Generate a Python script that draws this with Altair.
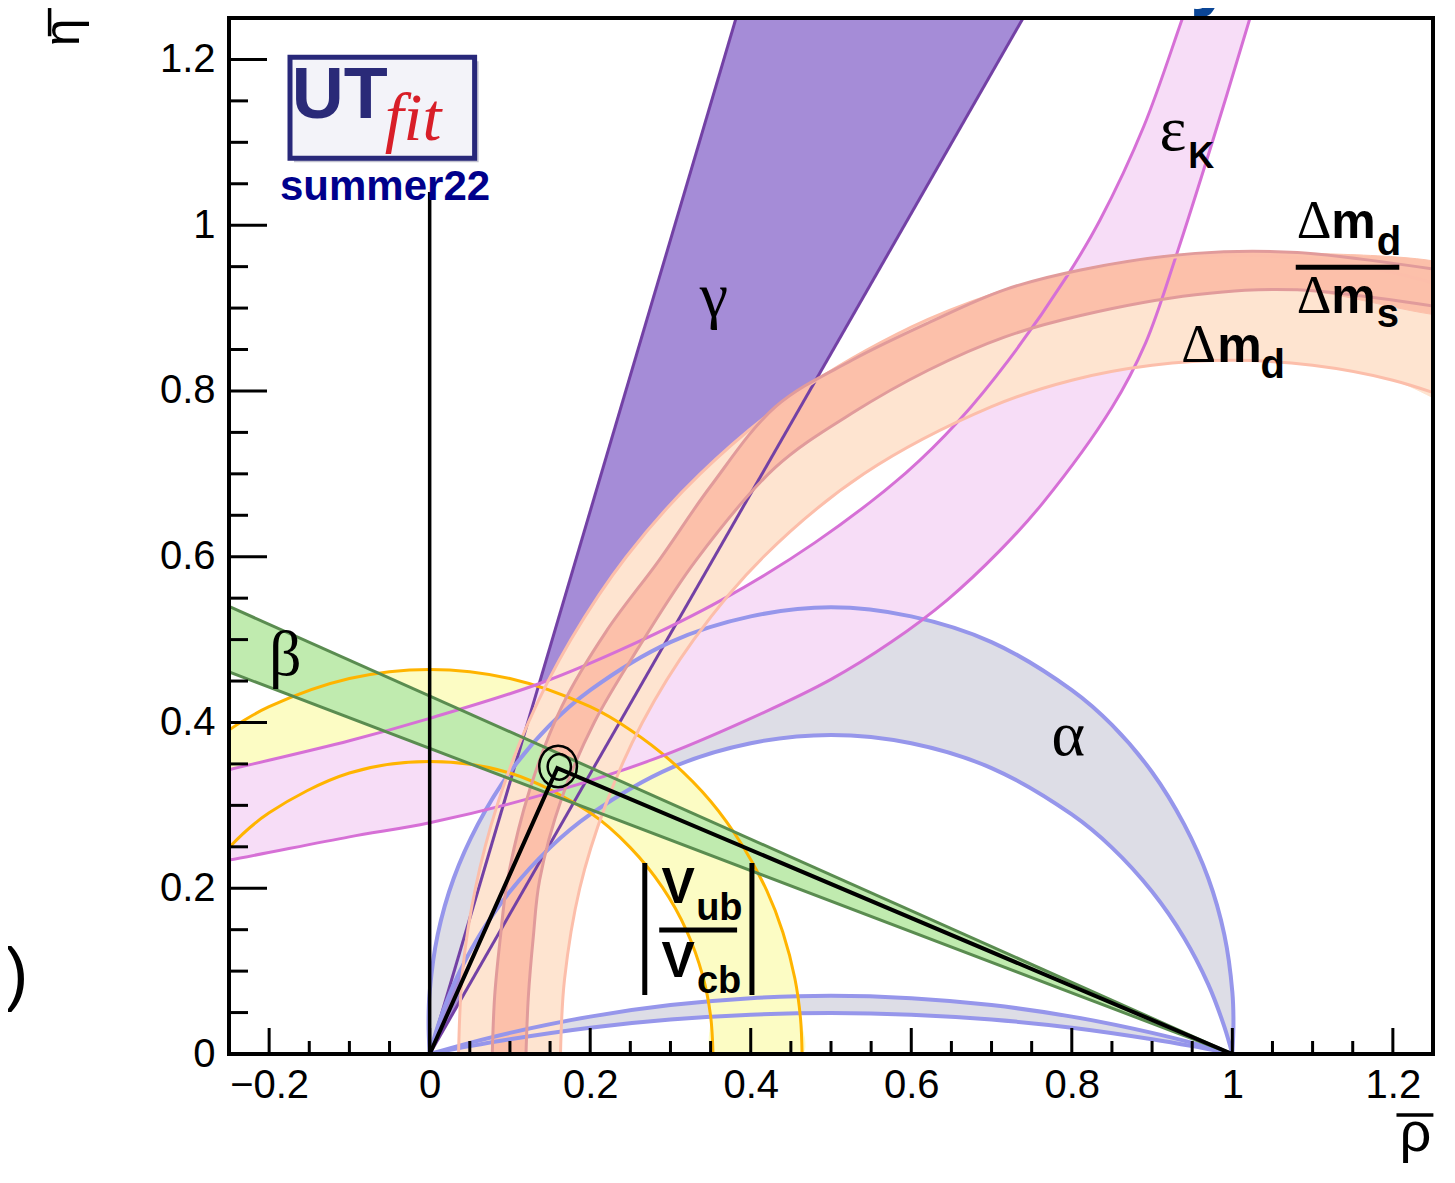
import altair as alt
import pandas as pd

W, H = 1204, 1036
X_DOMAIN = [-0.25, 1.25]
Y_DOMAIN = [0.0, 1.25]

X_LABELS = [-0.2, 0.0, 0.2, 0.4, 0.6, 0.8, 1.0, 1.2]
Y_LABELS = [0.0, 0.2, 0.4, 0.6, 0.8, 1.0, 1.2]
X_MINOR = [-0.15, -0.1, -0.05, 0.05, 0.1, 0.15, 0.25, 0.3, 0.35, 0.45, 0.5, 0.55,
           0.65, 0.7, 0.75, 0.85, 0.9, 0.95, 1.05, 1.1, 1.15]
Y_MINOR = [0.05, 0.1, 0.15, 0.25, 0.3, 0.35, 0.45, 0.5, 0.55, 0.65, 0.7, 0.75,
           0.85, 0.9, 0.95, 1.05, 1.1, 1.15]

# ---- gamma wedge ----
GAMMA_L_X = [0.0, 0.397]
GAMMA_L_Y = [0.0, 1.30]
GAMMA_R_X = [0.0, 0.769]
GAMMA_R_Y = [0.0, 1.30]

# ---- beta band ----
BETA_U_X = [-0.30, 1.0]
BETA_U_Y = [0.5616, 0.0]
BETA_L_X = [-0.30, 1.0]
BETA_L_Y = [0.4794, 0.0]

# ---- alpha (main solution) ----
ALPHA_O_X = [0.0, -0.0014, 0.0, 0.01, 0.03, 0.06, 0.1, 0.15, 0.2, 0.3, 0.4, 0.5, 0.6, 0.7,
             0.8, 0.85, 0.9, 0.94, 0.97, 0.99, 1.0, 1.0014, 1.0]
ALPHA_O_Y = [0.0, 0.0376, 0.075, 0.144, 0.212, 0.277, 0.340, 0.397, 0.439, 0.497, 0.528, 0.539,
             0.528, 0.497, 0.439, 0.397, 0.340, 0.277, 0.212, 0.144, 0.075, 0.0376, 0.0]
ALPHA_I_X = [0.0, 0.01, 0.03, 0.06, 0.1, 0.15, 0.2, 0.3, 0.4, 0.5, 0.6, 0.7, 0.8, 0.85,
             0.9, 0.94, 0.97, 0.99, 1.0]
ALPHA_I_Y = [0.0, 0.033, 0.084, 0.140, 0.196, 0.249, 0.289, 0.345, 0.375, 0.385, 0.375, 0.345,
             0.289, 0.249, 0.196, 0.140, 0.084, 0.033, 0.0]
# ---- alpha (flat solution) ----
ALPHA2_O_X = [0.0, 0.05, 0.1, 0.2, 0.3, 0.4, 0.5, 0.6, 0.7, 0.8, 0.9, 0.95, 1.0]
ALPHA2_O_Y = [0.0, 0.0135, 0.0255, 0.0451, 0.059, 0.0673, 0.0703, 0.0673, 0.059, 0.0451,
              0.0255, 0.0135, 0.0]
ALPHA2_I_X = [0.0, 0.05, 0.1, 0.2, 0.3, 0.4, 0.5, 0.6, 0.7, 0.8, 0.9, 0.95, 1.0]
ALPHA2_I_Y = [0.0, 0.0095, 0.0179, 0.0318, 0.0416, 0.0475, 0.0495, 0.0475, 0.0416, 0.0318,
              0.0179, 0.0095, 0.0]

# ---- |Vub/Vcb| ----
VUB_O_X = [-0.30, -0.25, -0.2, -0.1, 0.0, 0.1, 0.2, 0.25, 0.3, 0.35, 0.39, 0.42, 0.44, 0.455,
           0.462, 0.464]
VUB_O_Y = [0.354, 0.391, 0.419, 0.453, 0.464, 0.453, 0.419, 0.391, 0.354, 0.305, 0.251, 0.197,
           0.147, 0.091, 0.043, 0.0]
VUB_I_X = [-0.30, -0.25, -0.2, -0.1, 0.0, 0.1, 0.2, 0.25, 0.29, 0.32, 0.34, 0.35, 0.353]
VUB_I_Y = [0.186, 0.249, 0.291, 0.339, 0.353, 0.339, 0.291, 0.249, 0.201, 0.149, 0.095, 0.046, 0.0]

# ---- epsilon_K ----
EPS_U_X = [-0.30, -0.25, -0.1, 0.0, 0.137, 0.25, 0.364, 0.48, 0.593, 0.66, 0.721, 0.793, 0.835,
           0.89, 0.938, 0.96]
EPS_U_Y = [0.331, 0.343, 0.378, 0.405, 0.447, 0.493, 0.548, 0.617, 0.701, 0.765, 0.837, 0.937,
           1.006, 1.12, 1.25, 1.31]
EPS_L_X = [-0.30, -0.25, -0.1, 0.0, 0.149, 0.28, 0.398, 0.5, 0.575, 0.645, 0.71, 0.764, 0.85,
           0.892, 0.931, 0.975, 1.022, 1.04]
EPS_L_Y = [0.226, 0.234, 0.262, 0.279, 0.315, 0.356, 0.404, 0.452, 0.497, 0.548, 0.607, 0.665,
           0.780, 0.858, 0.966, 1.10, 1.25, 1.31]

# ---- Delta m_d ----
DMD_O_X = [0.036, 0.041, 0.057, 0.084, 0.123, 0.176, 0.245, 0.337, 0.462, 0.6, 0.7, 0.8, 0.9,
           1.0, 1.1, 1.2, 1.3]
DMD_O_Y = [0.0, 0.1, 0.2, 0.3, 0.4, 0.5, 0.6, 0.7, 0.8, 0.877, 0.916, 0.943, 0.959, 0.964,
           0.959, 0.943, 0.916]
DMD_I_X = [0.163, 0.168, 0.187, 0.219, 0.265, 0.329, 0.416, 0.541, 0.7, 0.8, 0.9, 1.0, 1.1,
           1.2, 1.3]
DMD_I_Y = [0.0, 0.09, 0.2, 0.3, 0.4, 0.5, 0.6, 0.7, 0.781, 0.813, 0.831, 0.837, 0.831, 0.813,
           0.781]

# ---- Delta m_d / Delta m_s ----
DMS_U_X = [0.078, 0.081, 0.088, 0.097, 0.125, 0.165, 0.22, 0.286, 0.35, 0.431, 0.526, 0.621,
           0.716, 0.811, 0.954, 1.081, 1.3]
DMS_U_Y = [0.0, 0.07, 0.14, 0.21, 0.32, 0.42, 0.51, 0.596, 0.685, 0.781, 0.837, 0.882, 0.922,
           0.946, 0.966, 0.967, 0.94]
DMS_L_X = [0.120, 0.123, 0.129, 0.137, 0.165, 0.205, 0.26, 0.332, 0.431, 0.526, 0.621, 0.716,
           0.811, 0.954, 1.081, 1.3]
DMS_L_Y = [0.0, 0.07, 0.14, 0.21, 0.31, 0.40, 0.49, 0.596, 0.708, 0.773, 0.825, 0.865, 0.891,
           0.916, 0.922, 0.895]

# ---- fit result ----
TRI_X = [0.0, 0.159, 1.0]
TRI_Y = [0.0, 0.345, 0.0]
CONT_O_X = [0.1835, 0.1804, 0.1718, 0.160, 0.1483, 0.1396, 0.1365, 0.1396, 0.1483, 0.160, 0.1718, 0.1804]
CONT_O_Y = [0.347, 0.3595, 0.3687, 0.372, 0.3687, 0.3595, 0.347, 0.3345, 0.3253, 0.322, 0.3253, 0.3345]
CONT_I_X = [0.176, 0.1741, 0.1688, 0.1615, 0.1543, 0.1489, 0.147, 0.1489, 0.1543, 0.1615, 0.1688, 0.1741]
CONT_I_Y = [0.3465, 0.3543, 0.3599, 0.362, 0.3599, 0.3543, 0.3465, 0.3388, 0.3331, 0.331, 0.3331, 0.3388]
VLINE_X = [0.0, 0.0]
VLINE_Y = [0.0, 1.04]

SX = alt.Scale(domain=X_DOMAIN, nice=False, zero=False)
SY = alt.Scale(domain=Y_DOMAIN, nice=False, zero=False)
AX = alt.Axis(values=X_LABELS, format='~g', ticks=False, tickSize=0, domain=False, grid=False,
              labelFont='Liberation Sans', labelFontSize=40, labelColor='black', labelPadding=11,
              labelFlush=False, labelOverlap=False, title=None)
AY = alt.Axis(values=Y_LABELS, format='~g', ticks=False, tickSize=0, domain=False, grid=False,
              labelFont='Liberation Sans', labelFontSize=40, labelColor='black', labelPadding=14,
              labelFlush=False, labelOverlap=False, title=None)


def xy(xf='x', yf='y'):
    return dict(x=alt.X(f'{xf}:Q', scale=SX, axis=AX), y=alt.Y(f'{yf}:Q', scale=SY, axis=AY))


def poly(ux, uy, lx, ly):
    xs = list(ux) + list(lx)[::-1]
    ys = list(uy) + list(ly)[::-1]
    return pd.DataFrame({'x': xs, 'y': ys, 'i': list(range(len(xs)))})


def fill_layer(df, color, interp='catmull-rom'):
    return alt.Chart(df).mark_line(fill=color, stroke=color, strokeWidth=1, interpolate=interp,
                                   clip=True).encode(**xy(), order='i:Q')


def curves(curve_list, color, width, interp='catmull-rom'):
    rows = []
    for k, (xs, ys) in enumerate(curve_list):
        for i, (a, b) in enumerate(zip(xs, ys)):
            rows.append({'x': a, 'y': b, 'c': k, 'i': i})
    return alt.Chart(pd.DataFrame(rows)).mark_line(color=color, strokeWidth=width,
                                                   interpolate=interp, clip=True).encode(
        **xy(), detail='c:N', order='i:Q')


def texts(xs, ys, ts, **mk):
    df = pd.DataFrame({'x': xs, 'y': ys, 't': ts})
    return alt.Chart(df).mark_text(**mk).encode(**xy(), text='t:N')


C_GAMMA, L_GAMMA = '#a58cd7', '#7341a5'
C_EPS, L_EPS = '#f7ddf7', '#d670d6'
C_ALPHA, L_ALPHA = '#dddde6', '#9696eb'
C_VUB, L_VUB = '#fcfcc4', '#ffb400'
C_DMD, L_DMD = '#fee4d0', '#fcbeaa'
C_DMS, L_DMS = '#fcc0aa', '#e19b9b'
C_BETA, L_BETA = '#c0ebaf', '#5a8c50'

layers = [
    fill_layer(poly(GAMMA_L_X, GAMMA_L_Y, GAMMA_R_X, GAMMA_R_Y), C_GAMMA, 'linear'),
    fill_layer(poly(ALPHA_O_X, ALPHA_O_Y, ALPHA_I_X, ALPHA_I_Y), C_ALPHA),
    fill_layer(poly(ALPHA2_O_X, ALPHA2_O_Y, ALPHA2_I_X, ALPHA2_I_Y), C_ALPHA),
    fill_layer(poly(VUB_O_X, VUB_O_Y, VUB_I_X, VUB_I_Y), C_VUB),
    fill_layer(poly(EPS_U_X, EPS_U_Y, EPS_L_X, EPS_L_Y), C_EPS),
    fill_layer(poly(DMD_O_X, DMD_O_Y, DMD_I_X, DMD_I_Y), C_DMD),
    fill_layer(poly(DMS_U_X, DMS_U_Y, DMS_L_X, DMS_L_Y), C_DMS),
    fill_layer(poly(BETA_U_X, BETA_U_Y, BETA_L_X, BETA_L_Y), C_BETA, 'linear'),
    curves([(GAMMA_L_X, GAMMA_L_Y), (GAMMA_R_X, GAMMA_R_Y)], L_GAMMA, 3, 'linear'),
    curves([(ALPHA_O_X, ALPHA_O_Y), (ALPHA_I_X, ALPHA_I_Y), (ALPHA2_O_X, ALPHA2_O_Y),
            (ALPHA2_I_X, ALPHA2_I_Y)], L_ALPHA, 4),
    curves([(VUB_O_X, VUB_O_Y), (VUB_I_X, VUB_I_Y)], L_VUB, 3),
    curves([(EPS_U_X, EPS_U_Y), (EPS_L_X, EPS_L_Y)], L_EPS, 3),
    curves([(DMD_O_X, DMD_O_Y), (DMD_I_X, DMD_I_Y)], L_DMD, 3),
    curves([(DMS_U_X, DMS_U_Y), (DMS_L_X, DMS_L_Y)], L_DMS, 3),
    curves([(BETA_U_X, BETA_U_Y), (BETA_L_X, BETA_L_Y)], L_BETA, 3, 'linear'),
    curves([(VLINE_X, VLINE_Y)], 'black', 3.5, 'linear'),
    curves([(TRI_X, TRI_Y)], 'black', 4, 'linear'),
    curves([(CONT_O_X, CONT_O_Y), (CONT_I_X, CONT_I_Y)], 'black', 2.5, 'cardinal-closed'),
]

# ---- constraint labels ----
GREEK = dict(font='Liberation Serif', fontSize=64, color='black', align='center',
             baseline='alphabetic')
layers += [
    texts([0.354, 0.7955, -0.180, 0.926], [0.891, 0.3607, 0.457, 1.0905],
          ['γ', 'α', 'β', 'ε'], **GREEK),
    texts([0.945], [1.0688], ['K'], font='Liberation Sans', fontSize=36, fontWeight='bold',
          color='black', align='left', baseline='alphabetic'),
    texts([0.958, 1.102, 1.102], [0.835, 0.984, 0.894], ['Δ', 'Δ', 'Δ'],
          font='Liberation Serif', fontSize=54, color='black', align='center',
          baseline='alphabetic'),
    texts([1.009, 1.151, 1.151], [0.835, 0.984, 0.894], ['m', 'm', 'm'],
          font='Liberation Sans', fontSize=50, fontWeight='bold', color='black',
          align='center', baseline='alphabetic'),
    texts([1.035, 1.180, 1.180], [0.8154, 0.9638, 0.877], ['d', 'd', 's'],
          font='Liberation Sans', fontSize=40, fontWeight='bold', color='black',
          align='left', baseline='alphabetic'),
    texts([0.3095, 0.3095], [0.182, 0.0929], ['V', 'V'], font='Liberation Sans', fontSize=50,
          fontWeight='bold', color='black', align='center', baseline='alphabetic'),
    texts([0.332, 0.333], [0.1616, 0.0736], ['ub', 'cb'], font='Liberation Sans', fontSize=38,
          fontWeight='bold', color='black', align='left', baseline='alphabetic'),
]

# fraction bars, |...| bars and the over-bars of the axis titles
RULE_X = [1.079, 0.286, 0.268, 0.4015, 1.2045, -0.4735]
RULE_X2 = [1.208, 0.383, 0.268, 0.4015, 1.2505, -0.4735]
RULE_Y = [0.9493, 0.1496, 0.0712, 0.0712, -0.0736, 1.262]
RULE_Y2 = [0.9493, 0.1496, 0.2304, 0.2304, -0.0736, 1.228]
RULE_W = [5, 5, 5, 5, 3.5, 3.5]
rules_df = pd.DataFrame({'x': RULE_X, 'x2': RULE_X2, 'y': RULE_Y, 'y2': RULE_Y2, 'w': RULE_W})
layers.append(alt.Chart(rules_df).mark_rule(color='black').encode(
    **xy(), x2='x2:Q', y2='y2:Q',
    strokeWidth=alt.StrokeWidth('w:Q', scale=None, legend=None)))

# ---- logo ----
LOGO = pd.DataFrame({'x': [-0.174], 'x2': [0.056], 'y': [1.2027], 'y2': [1.0808]})
LOGO_SH = pd.DataFrame({'x': [-0.169], 'x2': [0.061], 'y': [1.1979], 'y2': [1.076]})
layers += [
    alt.Chart(LOGO_SH).mark_rect(color='#9a9ab0', opacity=0.6).encode(**xy(), x2='x2:Q', y2='y2:Q'),
    alt.Chart(LOGO).mark_rect(fill='#f3f3f9', stroke='#28287a', strokeWidth=5).encode(
        **xy(), x2='x2:Q', y2='y2:Q'),
    texts([-0.112], [1.129], ['UT'], font='Liberation Sans', fontSize=72, fontWeight='bold',
          color='#2a2a78', align='center', baseline='alphabetic'),
    texts([-0.056], [1.1025], ['fit'], font='Liberation Serif', fontSize=68, fontStyle='italic',
          color='#d81e28', align='left', baseline='alphabetic'),
    texts([-0.1865], [1.030], ['summer22'], font='Liberation Sans', fontSize=42,
          fontWeight='bold', color='#00008c', align='left', baseline='alphabetic'),
    texts([0.975], [1.2714], ['y'], font='Liberation Sans', fontSize=80, fontWeight='bold',
          color='#0b4696', align='center', baseline='alphabetic'),
    texts([-0.5146], [0.094], [')'], font='Liberation Sans', fontSize=70, color='black',
          align='center', baseline='middle'),
    texts([1.228], [-0.1165], ['ρ'], font='Liberation Sans', fontSize=56, color='black',
          align='center', baseline='alphabetic'),
    texts([-0.4363], [1.2328], ['η'], font='Liberation Sans', fontSize=50, color='black',
          align='center', baseline='alphabetic', angle=270),
]

# ---- ticks (inside the frame) ----
tx_major = pd.DataFrame({'x': X_LABELS})
tx_minor = pd.DataFrame({'x': X_MINOR})
ty_major = pd.DataFrame({'y': Y_LABELS})
ty_minor = pd.DataFrame({'y': Y_MINOR})
layers += [
    alt.Chart(tx_major).mark_rule(color='black', strokeWidth=3).encode(
        x=alt.X('x:Q', scale=SX, axis=AX), y=alt.value(H), y2=alt.value(H - 26)),
    alt.Chart(tx_minor).mark_rule(color='black', strokeWidth=3).encode(
        x=alt.X('x:Q', scale=SX, axis=AX), y=alt.value(H), y2=alt.value(H - 13)),
    alt.Chart(ty_major).mark_rule(color='black', strokeWidth=3).encode(
        y=alt.Y('y:Q', scale=SY, axis=AY), x=alt.value(0), x2=alt.value(38)),
    alt.Chart(ty_minor).mark_rule(color='black', strokeWidth=3).encode(
        y=alt.Y('y:Q', scale=SY, axis=AY), x=alt.value(0), x2=alt.value(19)),
    alt.Chart(pd.DataFrame({'a': [0]})).mark_rect(stroke='black', strokeWidth=4,
                                                   fillOpacity=0).encode(
        x=alt.value(0), x2=alt.value(W), y=alt.value(0), y2=alt.value(H)),
]

chart = alt.layer(*layers).properties(
    width=W, height=H,
    padding={'left': 221, 'top': 10, 'right': 12, 'bottom': 111},
    autosize=alt.AutoSizeParams(type='none'),
    background='white',
).configure_view(strokeWidth=0)

chart.save('out.html', embed_options={'renderer': 'svg', 'actions': False})
